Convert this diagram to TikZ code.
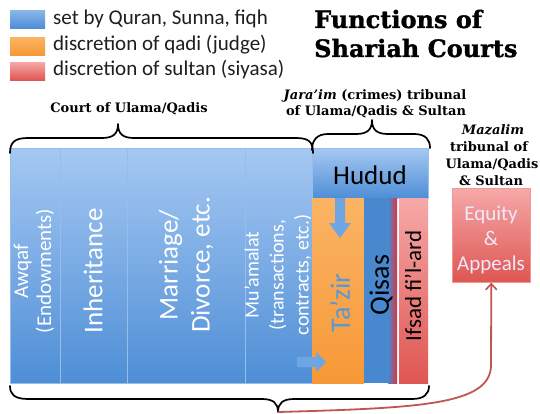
\documentclass[tikz,border=0pt]{standalone}
\usepackage{fontspec}
\setmainfont{Carlito}
\newfontfamily\slab{DejaVu Serif}
\newfontfamily\slabheavy{DejaVu Serif}[BoldFeatures={FakeBold=1.3}]
\usetikzlibrary{arrows.meta}
\definecolor{bluetop}{RGB}{165,200,242}
\definecolor{bluebot}{RGB}{78,142,214}
\definecolor{blueline}{RGB}{150,190,235}
\definecolor{orangetop}{RGB}{251,180,100}
\definecolor{orangebot}{RGB}{247,152,55}
\definecolor{qisasblue}{RGB}{72,136,206}
\definecolor{stripred}{RGB}{226,48,62}
\definecolor{redtop}{RGB}{246,168,168}
\definecolor{redbot}{RGB}{222,86,82}
\definecolor{redline}{RGB}{192,86,82}
\definecolor{legendtext}{RGB}{30,30,30}
\definecolor{tazirblue}{RGB}{88,152,215}
\definecolor{arrowblue}{RGB}{110,166,228}
\definecolor{equitytext}{RGB}{238,234,252}
\begin{document}
\begin{tikzpicture}[x=1pt,y=-1pt,
  box/.style={rectangle, inner sep=0pt, anchor=north west},
  bluecol/.style={box, top color=bluetop, bottom color=bluebot, draw=blueline, line width=0.6pt},
  legbox/.style={box, minimum width=35pt, minimum height=18pt},
  legtext/.style={anchor=base west, inner sep=0pt, text=legendtext, font=\fontsize{21}{25}\selectfont},
  lab/.style={anchor=base, inner sep=0pt, font=\slab\bfseries\fontsize{13}{16}\selectfont},
  coltext/.style={rotate=90, align=center, inner sep=0pt, text=white},
  brace/.style={draw=black, line width=1.7pt, line cap=round, line join=round},
  conn/.style={draw=redline, line width=1.8pt, -{Straight Barb[length=6pt,width=11pt,line width=1.6pt]}}
]
\useasboundingbox (0,0) rectangle (540,414);
\fill[white] (0,0) rectangle (540,414);

% legend
\node[legbox, top color=bluetop!70!bluebot, bottom color=bluebot] (legblue) at (10,10) {};
\node[legbox, top color=orangetop, bottom color=orangebot] (legorange) at (10,37) {};
\node[legbox, top color=redtop, bottom color=redbot] (legred) at (10,62) {};
\node[legtext] (legbluet) at (53,25) {set by Quran, Sunna, fiqh};
\node[legtext] (legoranget) at (53,51) {discretion of qadi (judge)};
\node[legtext] (legredt) at (53,76) {discretion of sultan (siyasa)};

% title
\node[anchor=base west, inner sep=0pt, font=\slabheavy\bfseries\fontsize{24}{28}\selectfont] (title1) at (314,28) {Functions of};
\node[anchor=base west, inner sep=0pt, font=\slabheavy\bfseries\fontsize{24}{28}\selectfont] (title2) at (314,57) {Shariah Courts};

% labels
\node[lab] (court) at (129,113) {Court of Ulama/Qadis};
\node[lab] (jaraim1) at (375,100) {\textit{Jara’im} (crimes) tribunal};
\node[lab] (jaraim2) at (376,116) {of Ulama/Qadis \& Sultan};
\node[lab] (maz1) at (493,135) {\textit{Mazalim}};
\node[lab] (maz2) at (489,152) {tribunal of};
\node[lab] (maz3) at (492,168) {Ulama/Qadis};
\node[lab] (maz4) at (491,185) {\& Sultan};

% blue columns
\node[bluecol, minimum width=50pt, minimum height=235pt] (awqaf) at (10,148) {};
\node[bluecol, minimum width=67pt, minimum height=235pt] (inherit) at (60,148) {};
\node[bluecol, minimum width=118pt, minimum height=235pt] (marriage) at (127,148) {};
\node[bluecol, minimum width=67pt, minimum height=235pt] (muamalat) at (245,148) {};
\node[bluecol, minimum width=116pt, minimum height=50pt] (hudud) at (312,148) {};
\node[box, minimum width=52pt, minimum height=185pt, top color=orangetop, bottom color=orangebot] (tazir) at (312,198) {};
\node[box, minimum width=26pt, minimum height=185pt, fill=qisasblue] (qisas) at (364,198) {};
\node[box, minimum width=9pt, minimum height=185pt, left color=qisasblue, right color=stripred] (strip) at (388,198) {};
\node[box, minimum width=29pt, minimum height=185pt, top color=redtop, bottom color=redbot] (ifsad) at (399,198) {};
\node[box, minimum width=78pt, minimum height=94pt, top color=redtop, bottom color=redbot, draw=redtop!80!redbot, line width=0.6pt] (equity) at (452,188) {};

% block arrows
\fill[arrowblue] (297,357) -- (316,357) -- (316,352) -- (326,362) -- (316,372) -- (316,367) -- (297,367) -- cycle;
\fill[arrowblue] (335,198) -- (345,198) -- (345,223) -- (351,223) -- (340,238) -- (329,223) -- (335,223) -- cycle;

% column texts
\node[coltext, font=\fontsize{21}{23}\selectfont] (awqaft) at (34,271) {Awqaf\\(Endowments)};
\node[coltext, font=\fontsize{27}{32}\selectfont] (inheritt) at (93,271) {Inheritance};
\node[coltext, font=\fontsize{27}{32}\selectfont] (marriaget) at (186,265) {Marriage/\\Divorce, etc.};
\node[coltext, font=\fontsize{20}{25}\selectfont] (muamalatt) at (278,275) {Mu’amalat\\(transactions,\\contracts, etc.)};
\node[coltext, text=tazirblue, font=\fontsize{28}{32}\selectfont] (tazirt) at (340,303) {Ta’zir};
\node[coltext, text=black, font=\fontsize{28}{32}\selectfont] (qisast) at (381,285) {Qisas};
\node[coltext, text=black, font=\fontsize{23}{28}\selectfont] (ifsadt) at (413,286) {Ifsad fi’l-ard};
\node[inner sep=0pt, font=\fontsize{27}{32}\selectfont] (hududt) at (370,175) {Hudud};
\node[align=center, inner sep=0pt, text=equitytext, font=\fontsize{21}{25}\selectfont] (equityt) at (491,240) {Equity\\\&\\Appeals};

% braces
\draw[brace] (10,153) .. controls (10,142) and (15,138) .. (28,138) -- (102,138)
  .. controls (113,138) and (118,134) .. (118,124)
  .. controls (118,134) and (123,138) .. (134,138) -- (296,138)
  .. controls (309,138) and (313,142) .. (313,153);
\draw[brace] (312,150) .. controls (312,140) and (317,134) .. (328,134) -- (356,134)
  .. controls (367,134) and (372,130) .. (372,120)
  .. controls (372,130) and (377,134) .. (388,134) -- (414,134)
  .. controls (426,134) and (430,140) .. (430,148);
\coordinate (btip) at (278,412);
\draw[brace] (10,386) .. controls (10,394) and (14,399) .. (28,399) -- (262,399)
  .. controls (273,399) and (278,403) .. (btip)
  .. controls (278,403) and (283,399) .. (294,399) -- (412,399)
  .. controls (424,399) and (429,394) .. (429,386);

% connector
\draw[conn] (btip) .. controls (420,408) and (491,405) .. (491,365) -- (equity.south);
\end{tikzpicture}
\end{document}
